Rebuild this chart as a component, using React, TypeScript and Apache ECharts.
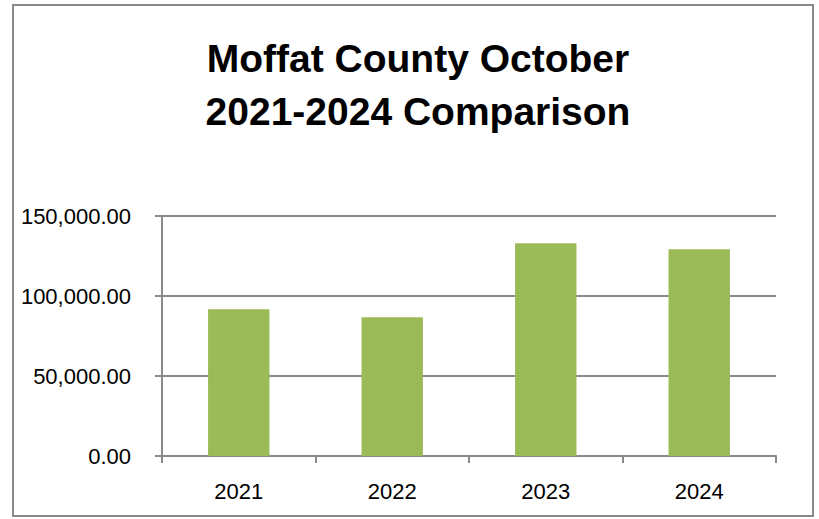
import React, { useEffect, useRef } from "react";
import * as echarts from "echarts";

const titleLines = ["Moffat County October", "2021-2024 Comparison"];
const categories = ["2021", "2022", "2023", "2024"];
const values = [91700, 86700, 132900, 129200];
const yTicks = { min: 0, max: 150000, interval: 50000 };

export default function App() {
  const ref = useRef<HTMLDivElement>(null);
  useEffect(() => {
    if (!ref.current) return;
    const chart = echarts.init(ref.current, null, { renderer: "svg" });
    const gray = "#8a8a8a";
    const font = "'Liberation Sans', Arial, sans-serif";
    chart.setOption({
      animation: false,
      backgroundColor: "#ffffff",
      title: {
        text: titleLines.join("\n"),
        left: 413,
        textAlign: "center",
        top: 27,
        textStyle: {
          fontFamily: font,
          fontWeight: "bold",
          fontSize: 39,
          lineHeight: 53,
          color: "#000",
        },
      },
      graphic: [
        {
          type: "rect",
          shape: { x: 13, y: 5, width: 800, height: 511 },
          style: { fill: "none", stroke: gray, lineWidth: 2 },
          silent: true,
        },
      ],
      grid: { left: 162, right: 43, top: 216, bottom: 63, containLabel: false },
      xAxis: {
        type: "category",
        data: categories,
        axisLine: { show: true, lineStyle: { color: gray, width: 2 } },
        axisTick: { show: true, length: 7, alignWithLabel: false, lineStyle: { color: gray, width: 2 } },
        axisLabel: { color: "#000", fontFamily: font, fontSize: 22, margin: 24 },
        splitLine: { show: false },
      },
      yAxis: {
        type: "value",
        min: yTicks.min,
        max: yTicks.max,
        interval: yTicks.interval,
        axisLine: { show: true, lineStyle: { color: gray, width: 2 } },
        axisTick: { show: true, length: 7, lineStyle: { color: gray, width: 2 } },
        axisLabel: {
          color: "#000",
          fontFamily: font,
          fontSize: 22,
          margin: 31,
          formatter: (v: number) =>
            v.toLocaleString("en-US", { minimumFractionDigits: 2, maximumFractionDigits: 2 }),
        },
        splitLine: { show: true, lineStyle: { color: gray, width: 2 } },
      },
      series: [
        {
          type: "bar",
          data: values,
          barWidth: "40%",
          itemStyle: { color: "#9BBB59" },
        },
      ],
    });
    return () => chart.dispose();
  }, []);
  return (
    <div
      ref={ref}
      style={{ position: "absolute", left: 0, top: 0, width: 819, height: 519 }}
    />
  );
}
